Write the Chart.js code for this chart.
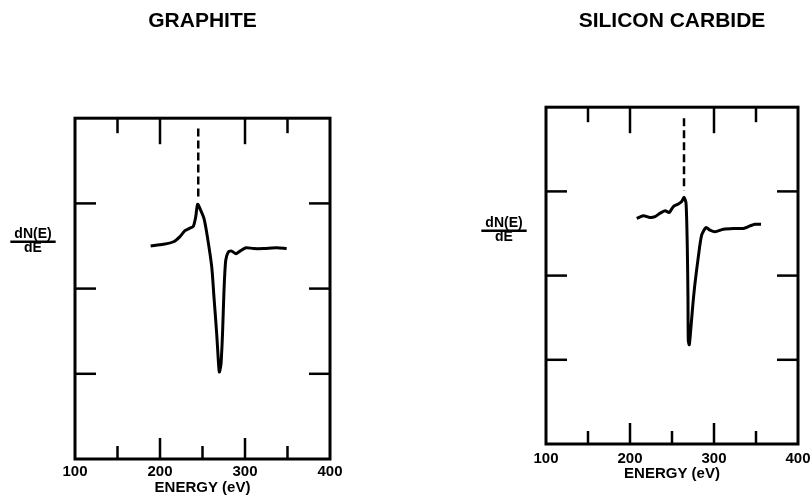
<!DOCTYPE html>
<html>
<head>
<meta charset="utf-8">
<script src="https://cdn.jsdelivr.net/npm/chart.js@4"></script>
<style>
  html, body { margin: 0; padding: 0; background: #ffffff; }
  #wrap { position: relative; width: 810px; height: 504px; overflow: hidden; background: #ffffff; }
  canvas { position: absolute; top: 0; }
  #c1 { left: 0; }
  #c2 { left: 405px; }
</style>
</head>
<body>
<div id="wrap">
  <canvas id="c1" width="405" height="504"></canvas>
  <canvas id="c2" width="405" height="504"></canvas>
</div>
<script>
// ---------------- DATA ----------------
const chartTitles = ["GRAPHITE", "SILICON CARBIDE"];
const xAxisTitle = "ENERGY (eV)";
const yLabelTop = "dN(E)";
const yLabelBottom = "dE";
const xTickLabels = [100, 200, 300, 400];
const xInnerTicksBottom = [150, 200, 250, 300, 350];
const xInnerTicksTop = [150, 200, 300, 350];
const yInnerTicks = [1, 2, 3];

const graphiteEnergy = [189, 204, 216, 223.5, 229.4, 235.3, 239.2, 242, 244.3, 247.8, 251.8, 255.7, 260.8, 263.5, 266.7, 268.6, 269.8, 271.8, 273.7, 275.3, 277.3, 280.4, 284.3, 289.4, 294.1, 301.2, 309.8, 321.6, 337.3, 349];
const graphiteSignal = [2.50, 2.52, 2.55, 2.61, 2.68, 2.71, 2.73, 2.84, 2.99, 2.92, 2.82, 2.61, 2.26, 1.90, 1.47, 1.16, 1.02, 1.12, 1.51, 1.98, 2.33, 2.43, 2.44, 2.41, 2.44, 2.48, 2.47, 2.47, 2.48, 2.47];
const graphiteMarkerEnergy = [245, 245];
const graphiteMarkerSignal = [3.88, 3.04];

const sicEnergy = [208, 215.9, 223.8, 229.8, 235.7, 241.7, 246.8, 251.6, 257.5, 261.5, 264.3, 266.7, 268.2, 269, 269.4, 270.6, 272.6, 274.6, 277.4, 281.3, 285.3, 290.5, 295.2, 301.2, 311.1, 323, 334.9, 342.9, 348.8, 356];
const sicSignal = [2.68, 2.71, 2.69, 2.70, 2.74, 2.77, 2.75, 2.82, 2.85, 2.88, 2.93, 2.86, 2.34, 1.75, 1.23, 1.18, 1.39, 1.63, 1.91, 2.22, 2.48, 2.57, 2.54, 2.52, 2.55, 2.56, 2.56, 2.59, 2.61, 2.61];
const sicMarkerEnergy = [264.3, 264.3];
const sicMarkerSignal = [3.87, 3.01];

// ---------------- HELPERS ----------------
const FONT = "'Liberation Sans', Arial, Helvetica, sans-serif";
function pts(xs, ys) { return xs.map((x, i) => ({ x: x, y: ys[i] })); }

const framePlugin = {
  id: 'frame',
  afterDatasetsDraw(chart) {
    const { ctx, chartArea: a, scales: { x, y } } = chart;
    ctx.save();
    ctx.strokeStyle = '#000';
    ctx.lineCap = 'butt';
    // inner ticks
    ctx.lineWidth = 2.5;
    xInnerTicksBottom.forEach(v => {
      const px = x.getPixelForValue(v);
      const len = (v % 100 === 0) ? 21 : 13;
      ctx.beginPath(); ctx.moveTo(px, a.bottom); ctx.lineTo(px, a.bottom - len); ctx.stroke();
    });
    xInnerTicksTop.forEach(v => {
      const px = x.getPixelForValue(v);
      const len = (v % 100 === 0) ? 26 : 15;
      ctx.beginPath(); ctx.moveTo(px, a.top); ctx.lineTo(px, a.top + len); ctx.stroke();
    });
    yInnerTicks.forEach(v => {
      const py = y.getPixelForValue(v);
      ctx.beginPath(); ctx.moveTo(a.left, py); ctx.lineTo(a.left + 21, py); ctx.stroke();
      ctx.beginPath(); ctx.moveTo(a.right, py); ctx.lineTo(a.right - 21, py); ctx.stroke();
    });
    // frame
    ctx.lineWidth = 3;
    ctx.strokeRect(a.left, a.top, a.right - a.left, a.bottom - a.top);
    // y label as fraction
    const cx = a.left - 42;
    const top = a.top + 116;
    ctx.fillStyle = '#000';
    ctx.font = "bold 14px " + FONT;
    ctx.textAlign = 'center';
    ctx.textBaseline = 'middle';
    ctx.fillText(yLabelTop, cx, top);
    const w = ctx.measureText(yLabelTop).width + 8;
    ctx.lineWidth = 2.5;
    ctx.beginPath(); ctx.moveTo(cx - w / 2, top + 7.5); ctx.lineTo(cx + w / 2, top + 7.5); ctx.stroke();
    ctx.fillText(yLabelBottom, cx, top + 14);
    ctx.restore();
  }
};

function makeChart(id, title, energy, signal, mEnergy, mSignal, pad, tickPad, titlePad) {
  return new Chart(document.getElementById(id), {
    type: 'line',
    data: {
      datasets: [
        {
          data: pts(energy, signal),
          borderColor: '#000',
          borderWidth: 3,
          pointRadius: 0,
          tension: 0.25,
          fill: false
        },
        {
          data: pts(mEnergy, mSignal),
          borderColor: '#000',
          borderWidth: 2.5,
          borderDash: [8, 4],
          pointRadius: 0,
          fill: false
        }
      ]
    },
    options: {
      responsive: false,
      animation: false,
      events: [],
      layout: { padding: pad, autoPadding: false },
      plugins: {
        legend: { display: false },
        tooltip: { enabled: false },
        title: {
          display: true,
          text: title,
          color: '#000',
          font: { family: FONT, size: 21, weight: 'bold' },
          padding: titlePad
        }
      },
      scales: {
        x: {
          type: 'linear',
          min: 100, max: 400,
          afterFit(s) { s.height = 45; s.paddingLeft = 0; s.paddingRight = 0; },
          afterBuildTicks(s) { s.ticks = xTickLabels.map(v => ({ value: v })); },
          grid: { display: false, drawTicks: false },
          border: { display: false },
          ticks: {
            color: '#000',
            padding: tickPad,
            maxRotation: 0,
            font: { family: FONT, size: 15, weight: 'bold' },
            callback: v => String(v)
          },
          title: {
            display: true,
            text: xAxisTitle,
            color: '#000',
            font: { family: FONT, size: 15, weight: 'bold' },
            padding: { top: 0, bottom: titlePad.axisBottom }
          }
        },
        y: {
          type: 'linear',
          min: 0, max: 4,
          display: false
        }
      }
    },
    plugins: [framePlugin]
  });
}

makeChart('c1', chartTitles[0], graphiteEnergy, graphiteSignal, graphiteMarkerEnergy, graphiteMarkerSignal,
  { left: 75, right: 75, top: 0, bottom: 0 }, 4, { top: 9, bottom: 84, axisBottom: 7 });
makeChart('c2', chartTitles[1], sicEnergy, sicSignal, sicMarkerEnergy, sicMarkerSignal,
  { left: 141, right: 12, top: 0, bottom: 15 }, 6, { top: 9, bottom: 73, axisBottom: 6 });
</script>
</body>
</html>
